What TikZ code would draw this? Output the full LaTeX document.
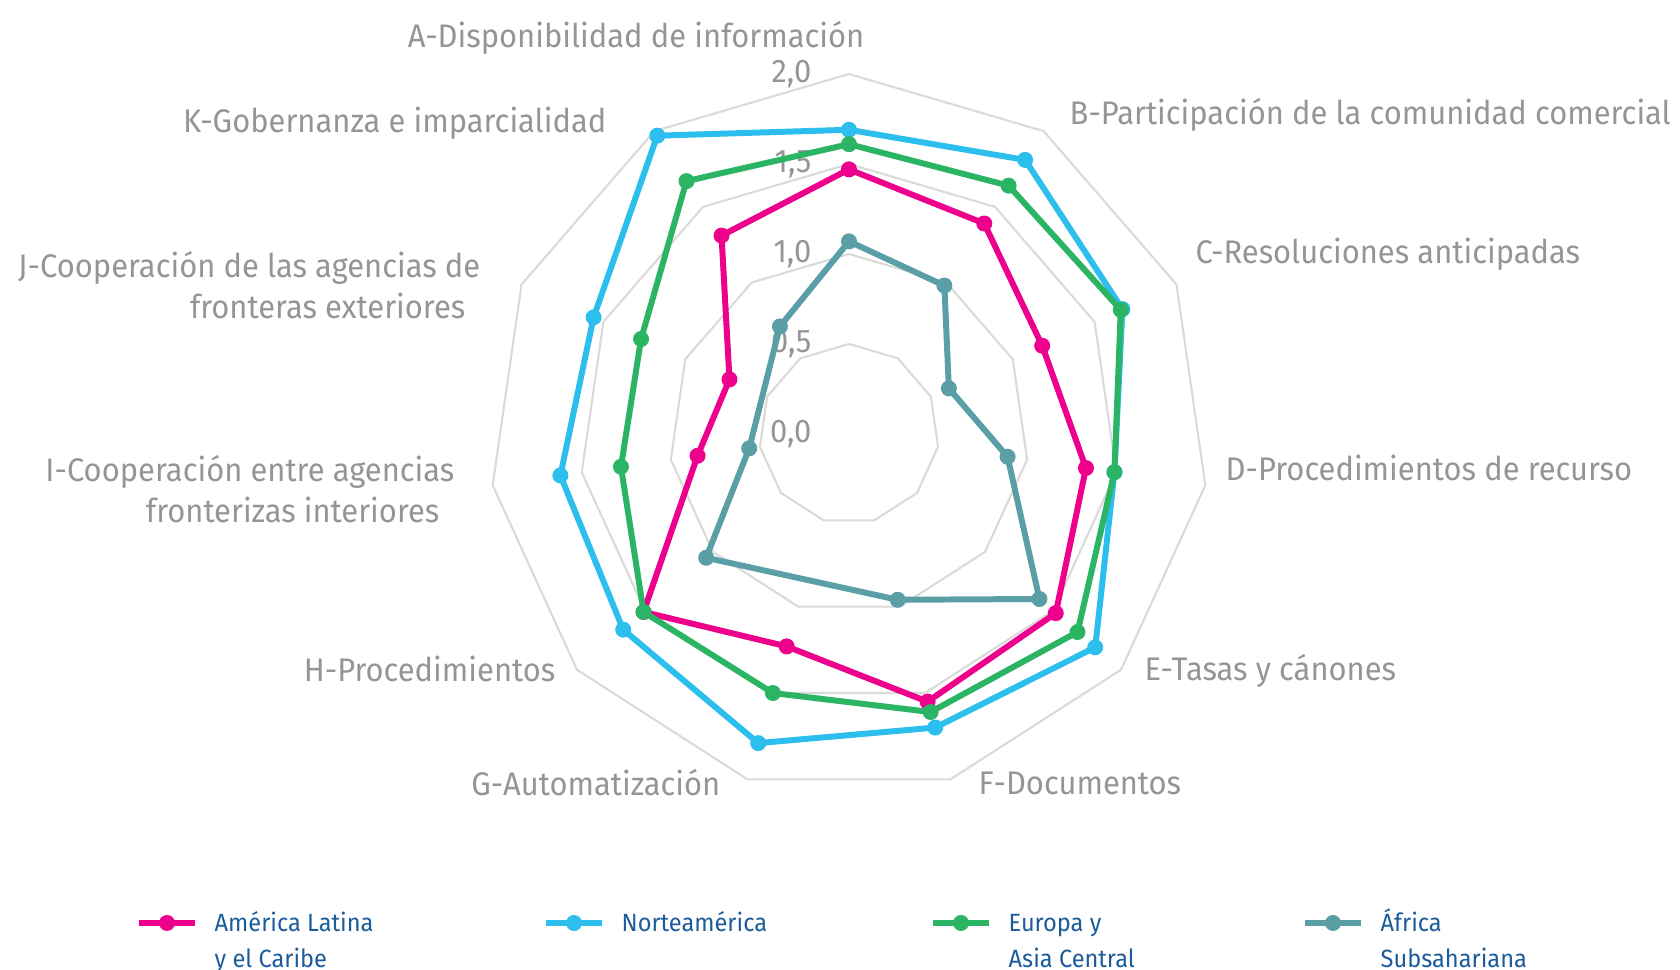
\documentclass[tikz,border=0pt]{standalone}
\usepackage{fontspec}
\setmainfont[FakeStretch=0.946]{Fira Sans}
\usetikzlibrary{positioning}

% valores por eje (indice/valor), A=0 ... K=10
\newcommand{\datLa}{0/1.47,1/1.39,2/1.18,3/1.33,4/1.52,5/1.55,6/1.23,7/1.51,8/0.85,9/0.73,10/1.31}
\newcommand{\datNa}{0/1.69,1/1.81,2/1.67,3/1.49,4/1.81,5/1.70,6/1.79,7/1.66,8/1.62,9/1.56,10/1.97}
\newcommand{\datEa}{0/1.61,1/1.64,2/1.66,3/1.49,4/1.68,5/1.61,6/1.50,7/1.51,8/1.28,9/1.27,10/1.67}
\newcommand{\datAs}{0/1.07,1/0.98,2/0.61,3/0.89,4/1.40,5/0.96,7/1.05,8/0.56,10/0.71}

\newcommand{\radar}[3]{%
  \foreach \k/\v in #3
    \coordinate (#1-\k) at ({90-\k*360/11}:{\v*180});
  \draw[serie, #2] (#1-0) \foreach \k/\v in #3 {-- (#1-\k)} -- cycle;
}
\newcommand{\puntos}[3]{%
  \foreach \k/\v in #3
    \fill[#2] (#1-\k) circle (8);
}

\begin{document}
\begin{tikzpicture}[x=0.1mm, y=0.1mm,
    rejilla/.style={draw=rej, line width=0.6pt},
    serie/.style={line width=1.7pt, line join=round},
    eje/.style={text=txt, inner sep=0pt, font=\fontsize{9.3}{11.8}\selectfont},
    leyenda/.style={text=ley, inner sep=0pt, align=left, anchor=north west,
      font=\fontsize{7.1}{10.4}\selectfont}]
  \definecolor{lat}{HTML}{EC008C}
  \definecolor{nor}{HTML}{2CBFEE}
  \definecolor{eur}{HTML}{2BB463}
  \definecolor{afr}{HTML}{5A9EA6}
  \definecolor{rej}{HTML}{DADADA}
  \definecolor{txt}{HTML}{939598}
  \definecolor{ley}{HTML}{1D5C9B}
  \useasboundingbox (0,0) rectangle (1680,970);

  \begin{scope}[shift={(849,536)}]
    \foreach \r in {0.5,1,1.5,2}
      \draw[rejilla] (90:{\r*180}) \foreach \k in {1,...,10} {-- ({90-\k*360/11}:{\r*180})} -- cycle;
    \foreach \r/\t [count=\i] in {0/{0,0},0.5/{0,5},1/{1,0},1.5/{1,5},2/{2,0}}
      \node[eje, anchor=east] (val\i) at (-37,{\r*180}) {\t};

    \radar{la}{lat}{\datLa}
    \radar{na}{nor}{\datNa}
    \radar{ea}{eur}{\datEa}
    \radar{as}{afr}{\datAs}
    \puntos{la}{lat}{\datLa}
    \puntos{na}{nor}{\datNa}
    \puntos{ea}{eur}{\datEa}
    \puntos{as}{afr}{\datAs}
  \end{scope}

  % etiquetas de los ejes
  \node[eje, anchor=east] (ejeA) at (865,932) {A-Disponibilidad de información};
  \node[eje, anchor=west] (ejeB) at (1069,855) {B-Participación de la comunidad comercial};
  \node[eje, anchor=west] (ejeC) at (1195,716) {C-Resoluciones anticipadas};
  \node[eje, anchor=west] (ejeD) at (1225,502) {D-Procedimientos de recurso};
  \node[eje, anchor=west] (ejeE) at (1144,299) {E-Tasas y cánones};
  \node[eje, anchor=west] (ejeF) at (978,187) {F-Documentos};
  \node[eje, anchor=east] (ejeG) at (721,187) {G-Automatización};
  \node[eje, anchor=east] (ejeH) at (556,301) {H-Procedimientos};
  \node[eje, anchor=east, align=right] (ejeI) at (455,481) {I-Cooperación entre agencias\\fronterizas interiores\hspace*{1.5mm}};
  \node[eje, anchor=east, align=right] (ejeJ) at (481,685) {J-Cooperación de las agencias de\\fronteras exteriores\hspace*{1.5mm}};
  \node[eje, anchor=east] (ejeK) at (607,847) {K-Gobernanza e imparcialidad};

  % leyenda
  \foreach \x/\c/\t [count=\i] in {139/lat/{América Latina\\y el Caribe},546/nor/Norteamérica,
      933/eur/{Europa y\\Asia Central},1305/afr/{África\\Subsahariana}} {
    \draw[serie, \c] (\x,47) -- ++(56,0);
    \fill[\c] (\x+28,47) circle (8);
    \node[leyenda] (ley\i) at (\x+75,65) {\strut\t};
  }
\end{tikzpicture}
\end{document}
